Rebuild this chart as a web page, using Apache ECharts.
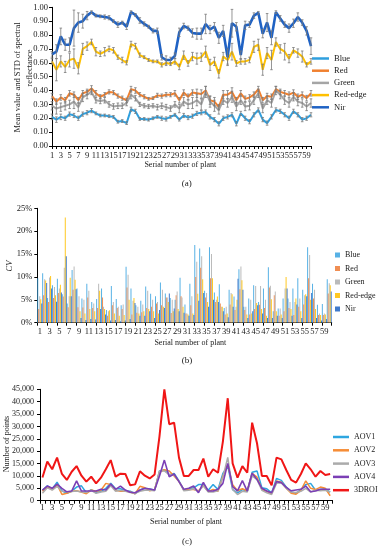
<!DOCTYPE html>
<html><head><meta charset="utf-8">
<script src="https://cdn.jsdelivr.net/npm/echarts@6/dist/echarts.min.js"></script>
<style>
html,body{margin:0;padding:0;background:#fff;width:381px;height:550px;overflow:hidden}
.c{position:absolute;left:0;width:381px}
</style></head><body>
<div id="ca" class="c" style="top:0;height:190px"></div>
<div id="cb" class="c" style="top:190px;height:180px"></div>
<div id="cc" class="c" style="top:370px;height:180px"></div>
<script>
// ---------- categories ----------
const plants = Array.from({length:60},(_,i)=>String(i+1));
const bandNames = ['Blue','Red','Green','Red-edge','Nir'];
const aovNames = ['AOV1','AOV2','AOV3','AOV4','3DROI'];

// ---------- (a) mean reflectance ----------
const meanBlue = [0.21,0.19,0.21,0.20,0.23,0.22,0.20,0.23,0.24,0.255,
 0.235,0.22,0.22,0.215,0.21,0.175,0.18,0.165,0.265,0.25,
 0.195,0.195,0.19,0.20,0.21,0.20,0.195,0.21,0.225,0.19,
 0.22,0.205,0.215,0.235,0.24,0.245,0.21,0.19,0.16,0.20,
 0.21,0.225,0.16,0.235,0.20,0.175,0.225,0.26,0.19,0.165,
 0.21,0.26,0.25,0.225,0.20,0.25,0.225,0.19,0.20,0.225];
const meanRed = [0.36,0.32,0.35,0.33,0.38,0.37,0.33,0.38,0.39,0.415,
 0.38,0.355,0.37,0.39,0.385,0.36,0.345,0.33,0.41,0.40,
 0.37,0.355,0.34,0.345,0.365,0.36,0.37,0.37,0.38,0.33,
 0.385,0.355,0.385,0.38,0.375,0.40,0.33,0.32,0.28,0.37,
 0.37,0.39,0.33,0.38,0.34,0.35,0.37,0.41,0.33,0.36,
 0.355,0.41,0.39,0.38,0.37,0.385,0.355,0.37,0.345,0.38];
const meanGreen = [0.29,0.27,0.28,0.29,0.30,0.32,0.28,0.35,0.37,0.39,
 0.33,0.325,0.33,0.30,0.285,0.29,0.29,0.31,0.37,0.345,
 0.30,0.29,0.285,0.29,0.28,0.29,0.28,0.27,0.30,0.27,
 0.32,0.30,0.31,0.33,0.30,0.39,0.32,0.29,0.26,0.33,
 0.31,0.355,0.285,0.33,0.285,0.29,0.33,0.38,0.27,0.33,
 0.31,0.40,0.37,0.33,0.31,0.355,0.32,0.31,0.285,0.31];
const meanRedEdge = [0.61,0.55,0.61,0.57,0.62,0.63,0.56,0.70,0.72,0.75,
 0.68,0.665,0.68,0.70,0.69,0.64,0.62,0.60,0.735,0.72,
 0.655,0.64,0.62,0.61,0.61,0.585,0.60,0.59,0.61,0.57,
 0.655,0.595,0.645,0.63,0.64,0.68,0.585,0.61,0.52,0.645,
 0.62,0.68,0.595,0.61,0.61,0.62,0.715,0.73,0.55,0.67,
 0.62,0.75,0.70,0.68,0.63,0.69,0.67,0.645,0.585,0.61];
const meanNir = [0.66,0.68,0.79,0.73,0.73,0.85,0.89,0.90,0.94,0.965,
 0.94,0.935,0.93,0.925,0.90,0.875,0.89,0.86,0.965,0.945,
 0.905,0.88,0.86,0.83,0.83,0.64,0.62,0.62,0.65,0.82,
 0.865,0.85,0.815,0.81,0.81,0.88,0.84,0.86,0.78,0.83,
 0.64,0.885,0.86,0.655,0.87,0.875,0.94,0.96,0.81,0.89,
 0.78,0.965,0.92,0.875,0.85,0.885,0.93,0.89,0.83,0.72];
// ---------- (a) STD ----------
const stdBlue = [0.02,0.02,0.02,0.015,0.015,0.015,0.015,0.015,0.015,0.015,
 0.01,0.01,0.01,0.01,0.01,0.01,0.01,0.01,0.015,0.015,
 0.01,0.01,0.01,0.01,0.01,0.015,0.015,0.01,0.01,0.01,
 0.015,0.015,0.015,0.015,0.015,0.015,0.015,0.015,0.015,0.015,
 0.015,0.015,0.015,0.015,0.015,0.015,0.015,0.015,0.015,0.015,
 0.015,0.015,0.015,0.015,0.015,0.015,0.015,0.015,0.015,0.015];
const stdRed = [0.02,0.02,0.02,0.02,0.02,0.02,0.02,0.02,0.02,0.02,
 0.02,0.015,0.015,0.015,0.015,0.015,0.015,0.015,0.02,0.02,
 0.015,0.015,0.01,0.01,0.015,0.015,0.015,0.015,0.02,0.02,
 0.02,0.02,0.02,0.03,0.03,0.03,0.03,0.03,0.02,0.03,
 0.03,0.03,0.02,0.02,0.02,0.02,0.02,0.02,0.02,0.02,
 0.02,0.02,0.02,0.02,0.02,0.02,0.02,0.02,0.02,0.02];
const stdGreen = [0.03,0.04,0.03,0.03,0.03,0.05,0.03,0.03,0.03,0.02,
 0.02,0.02,0.02,0.02,0.02,0.02,0.02,0.02,0.03,0.02,
 0.015,0.015,0.015,0.015,0.02,0.02,0.02,0.02,0.02,0.03,
 0.03,0.03,0.04,0.04,0.04,0.04,0.04,0.04,0.03,0.03,
 0.03,0.04,0.03,0.03,0.03,0.03,0.03,0.03,0.03,0.03,
 0.03,0.03,0.03,0.03,0.03,0.03,0.03,0.03,0.03,0.03];
const stdRedEdge = [0.02,0.08,0.04,0.04,0.05,0.07,0.04,0.04,0.03,0.02,
 0.03,0.02,0.03,0.02,0.02,0.015,0.02,0.015,0.02,0.02,
 0.015,0.01,0.01,0.01,0.01,0.015,0.02,0.01,0.02,0.02,
 0.03,0.02,0.03,0.04,0.03,0.04,0.04,0.03,0.03,0.03,
 0.03,0.06,0.02,0.02,0.02,0.02,0.04,0.04,0.04,0.04,
 0.07,0.03,0.03,0.06,0.03,0.02,0.03,0.04,0.015,0.02];
const stdNir = [0.02,0.05,0.06,0.04,0.05,0.13,0.07,0.05,0.03,0.01,
 0.01,0.01,0.015,0.015,0.01,0.02,0.01,0.02,0.01,0.01,
 0.02,0.015,0.01,0.015,0.02,0.02,0.03,0.02,0.02,0.03,
 0.02,0.015,0.03,0.04,0.04,0.07,0.03,0.03,0.04,0.04,
 0.06,0.10,0.03,0.03,0.03,0.02,0.02,0.01,0.03,0.065,
 0.05,0.01,0.02,0.02,0.03,0.03,0.03,0.02,0.03,0.06];

// ---------- (b) CV (%) ----------
const cvBlue = [9.7,10.8,5.4,8.2,9.6,6.2,4.2,11.5,7.5,5.3,
 8.5,4.5,5.2,7.5,2.8,8.0,5.2,3.8,12.2,7.5,
 3.8,4.8,7.9,6.3,5.8,8.8,6.4,5.4,5.0,9.8,
 4.0,8.5,17.0,16.2,7.0,16.5,6.6,8.4,3.2,7.2,
 5.7,11.7,3.5,5.3,8.2,4.5,7.5,12.1,2.5,3.1,
 5.3,5.3,7.5,9.7,7.2,16.5,8.5,3.9,4.1,9.5];
const cvRed = [3.0,6.0,4.5,5.4,6.5,5.7,3.4,7.2,3.4,3.3,
 5.5,3.2,3.2,5.5,1.5,3.8,3.2,3.0,7.7,1.8,
 2.2,2.3,3.2,3.5,4.2,3.8,5.5,2.1,6.0,5.8,
 2.0,3.8,10.0,12.0,5.5,9.7,4.5,4.2,1.8,4.0,
 2.8,7.3,2.8,1.8,3.0,3.9,3.2,7.7,6.0,1.5,
 2.5,3.2,1.7,3.5,4.0,9.7,5.3,1.7,1.7,6.4];
const cvGreen = [5.8,9.5,9.9,7.8,7.5,12.0,5.8,12.3,5.8,5.0,
 7.0,4.2,8.5,3.5,2.5,4.5,3.5,4.0,10.5,4.8,
 3.5,4.0,7.0,5.0,4.5,7.2,5.5,5.0,6.8,5.5,
 2.0,5.8,13.3,14.5,6.5,15.0,5.0,3.5,3.5,6.5,
 3.5,12.3,3.5,5.0,8.0,8.0,5.0,8.1,6.8,3.1,
 7.5,4.5,4.5,5.3,6.0,14.8,7.2,2.0,2.0,8.6];
const cvRedEdge = [5.1,9.2,10.2,6.0,8.3,23.0,9.8,9.4,2.5,2.0,
 3.0,2.5,7.0,3.0,2.7,2.0,1.5,1.7,5.0,5.4,
 2.0,2.5,3.0,2.5,2.0,3.5,4.5,2.5,3.0,3.5,
 1.8,2.0,6.3,9.5,4.5,9.7,5.7,3.5,2.0,6.2,
 5.0,9.3,1.8,2.0,4.3,3.0,1.5,5.1,2.5,1.8,
 10.0,3.0,5.3,2.5,6.2,5.0,3.0,1.7,1.8,8.2];
const cvNir = [4.2,8.7,7.5,4.6,6.6,14.5,5.8,7.3,1.0,0.6,
 0.8,0.7,3.0,1.8,0.5,0.6,0.3,0.5,0.8,4.3,
 1.5,1.5,2.5,1.0,2.8,3.2,6.4,3.1,2.5,2.2,
 1.5,1.7,4.8,6.5,3.5,5.0,4.5,2.5,1.2,3.5,
 9.6,7.2,1.0,2.5,3.8,2.0,1.0,1.0,1.5,1.0,
 7.5,1.5,4.0,1.0,5.8,6.5,1.0,0.5,0.8,6.8];

// ---------- (c) number of points ----------
const ptsAOV1 = [4200,6000,4800,7500,4000,3000,3800,5500,6000,3200,
 4500,3300,3800,5000,7000,4800,4800,4000,3800,2800,
 4300,5000,4700,4200,12000,12500,10500,11000,8000,4300,
 4800,5200,6500,6500,4200,6500,4500,11000,14000,4500,
 3200,4500,3800,11500,12000,5200,4800,3200,9000,8200,
 5500,3500,3000,4500,6500,7000,4200,4500,4800,3500];
const ptsAOV2 = [3800,5500,4500,6500,2500,3000,3800,4000,3500,2800,
 4300,3800,4200,7000,6500,4200,3800,3900,3500,2800,
 5800,5200,4000,4500,11500,12500,12000,10000,7800,4300,
 4500,4500,4000,6000,3700,4500,3800,10000,14500,6500,
 4000,4800,4000,11000,9500,4500,3800,2800,8000,7500,
 5000,3000,2600,4200,8000,5000,4500,5500,5000,2000];
const ptsAOV3 = [3000,5200,4300,5800,3800,3600,3700,3900,3500,3300,
 4200,3000,3500,3800,6000,3800,4200,3800,3300,3000,
 3800,4200,4200,4000,12000,12000,10500,10500,7800,4000,
 4200,4800,3600,6000,3500,3500,4000,9500,17500,4500,
 2500,3800,3500,10000,8500,4200,3200,2500,7000,7200,
 5000,3500,3300,3800,5000,3500,4200,4000,4200,3500];
const ptsAOV4 = [4300,5900,5000,6700,5000,3600,3900,8000,3900,3900,
 3900,3900,4600,4300,6700,4600,5900,4300,3400,3200,
 4300,5000,4700,4300,10000,16400,9700,10800,7700,4600,
 5000,5900,3200,7400,3900,3900,4600,7000,15100,5700,
 4000,8100,3900,11100,8600,5000,3900,3200,7700,7300,
 5400,4000,4300,4600,5900,3600,3900,4600,4600,4600];
const pts3DROI = [9400,15800,12700,17400,10800,8400,11700,14000,10100,7700,
 9700,7000,9300,12700,16400,9700,10900,10800,6200,6600,
 11900,10100,9000,10600,26000,45000,30900,31500,17400,10000,
 10000,12400,12400,17000,9700,12700,11300,23900,41400,15100,
 9300,14000,11300,31500,23200,10000,10000,6200,17400,16700,
 12400,8400,7300,10800,15100,12700,9700,12000,10400,10800];

// ---------- styles ----------
const FF = 'Liberation Serif';
const TXT = '#1a1a1a';
const lineColors = ['#2f9fde','#f0802f','#a5a5a5','#ffc000','#1f62c4'];
const barColors = ['#45a8e2','#ee8240','#b3b3b3','#ffc20a','#2a6cc6'];
const aovColors = ['#2ea6e0','#f68d36','#ababab','#7b3fb5','#f01616'];

function axisBase(){
  return {axisLine:{show:true,lineStyle:{color:'#000',width:1}},
          axisTick:{show:true,length:3,lineStyle:{color:'#000'}},
          splitLine:{show:false}};
}
function label(t,x,y,size,opts){
  return Object.assign({type:'text',x:x,y:y,silent:true,
    style:{text:t,fill:TXT,fontFamily:FF,fontSize:size,textAlign:'center',textVerticalAlign:'middle'}},opts||{});
}

// ===== Chart (a) =====
const means = [meanBlue,meanRed,meanGreen,meanRedEdge,meanNir];
const stds = [stdBlue,stdRed,stdGreen,stdRedEdge,stdNir];
const lineW = [2,2,2,2,2.6];
const seriesA = [];
bandNames.forEach((n,k)=>{
  seriesA.push({name:n,type:'line',data:means[k],symbol:'none',z:2+k,
    lineStyle:{color:lineColors[k],width:lineW[k]},itemStyle:{color:lineColors[k]}});
});
bandNames.forEach((n,k)=>{
  seriesA.push({name:n+' STD',type:'custom',z:10,
    data:means[k].map((m,i)=>[i,m,stds[k][i]]),
    encode:{x:0,y:1},
    renderItem:function(params,api){
      const i=api.value(0), m=api.value(1), s=api.value(2);
      const hi=api.coord([i,m+s]), lo=api.coord([i,m-s]);
      const w=1.3, st={stroke:'#7a7a7a',lineWidth:0.8};
      return {type:'group',children:[
        {type:'line',shape:{x1:hi[0],y1:hi[1],x2:lo[0],y2:lo[1]},style:st},
        {type:'line',shape:{x1:hi[0]-w,y1:hi[1],x2:hi[0]+w,y2:hi[1]},style:st},
        {type:'line',shape:{x1:lo[0]-w,y1:lo[1],x2:lo[0]+w,y2:lo[1]},style:st}]};
    }});
});
const chA = echarts.init(document.getElementById('ca'),null,{renderer:'canvas'});
chA.setOption({
  animation:false,
  grid:{left:52,right:70,top:7.3,bottom:44},
  legend:{data:bandNames.map((n,k)=>({name:n,icon:'rect',itemStyle:{color:lineColors[k]}})),
    orient:'vertical',left:312,top:54,itemWidth:17,itemHeight:k=>2,itemGap:3.2,padding:0,
    textStyle:{fontFamily:FF,fontSize:8.5,color:TXT}},
  xAxis:Object.assign(axisBase(),{type:'category',data:plants,boundaryGap:false,
    axisTick:{show:true,length:3,interval:0,lineStyle:{color:'#000'}},
    axisLabel:{interval:1,margin:5,fontFamily:FF,fontSize:8.5,color:TXT}}),
  yAxis:Object.assign(axisBase(),{type:'value',min:0,max:1,interval:0.1,
    axisLabel:{margin:4,fontFamily:FF,fontSize:8.5,color:TXT,formatter:v=>v.toFixed(2)}}),
  series:seriesA,
  graphic:[
    label('Serial number of plant',180.3,164.5,8),
    label('(a)',186.7,183.3,9),
    label('Mean value and STD of spectral',18,77.5,8.5,{rotation:Math.PI/2}),
    label('reflectance',29.5,68,8.5,{rotation:Math.PI/2})
  ]
});
chA.setOption({legend:{itemHeight:2.5}});

// ===== Chart (b) =====
const cvs = [cvBlue,cvRed,cvGreen,cvRedEdge,cvNir];
const chB = echarts.init(document.getElementById('cb'),null,{renderer:'canvas'});
chB.setOption({
  animation:false,
  grid:{left:37.3,right:49.3,top:18.3,bottom:47.3},
  legend:{data:bandNames,orient:'vertical',left:335,top:61,icon:'rect',itemWidth:5,itemHeight:5,itemGap:5.5,padding:0,
    textStyle:{fontFamily:FF,fontSize:8,color:TXT}},
  xAxis:Object.assign(axisBase(),{type:'category',data:plants,boundaryGap:true,
    axisTick:{show:true,length:3,interval:1,lineStyle:{color:'#000'}},
    axisLabel:{interval:1,margin:4.5,fontFamily:FF,fontSize:8.5,color:TXT}}),
  yAxis:Object.assign(axisBase(),{type:'value',min:0,max:25,interval:5,
    axisLabel:{margin:5,fontFamily:FF,fontSize:8.5,color:TXT,formatter:'{value}%'}}),
  series:bandNames.map((n,k)=>({name:n,type:'bar',data:cvs[k],barGap:'0%',barCategoryGap:'12%',
    itemStyle:{color:barColors[k],opacity:0.9}})),
  graphic:[
    label('Serial number of plant',190.3,152.7,8),
    label('(b)',187,171,9),
    label('CV',9.3,76,8.5,{rotation:Math.PI/2,style:{text:'CV',fill:TXT,fontFamily:FF,fontSize:8.5,fontStyle:'italic',textAlign:'center',textVerticalAlign:'middle'}})
  ]
});

// ===== Chart (c) =====
const pts = [ptsAOV1,ptsAOV2,ptsAOV3,ptsAOV4,pts3DROI];
const aovW = [1.5,1.5,1.5,1.6,2];
const chC = echarts.init(document.getElementById('cc'),null,{renderer:'canvas'});
chC.setOption({
  animation:false,
  grid:{left:40,right:48.4,top:19.3,bottom:49.3},
  legend:{data:aovNames.map((n,k)=>({name:n,icon:'rect',itemStyle:{color:aovColors[k]}})),
    orient:'vertical',left:333,top:63,itemWidth:16,itemHeight:2.5,itemGap:5.3,padding:0,
    textStyle:{fontFamily:FF,fontSize:8,color:TXT}},
  xAxis:Object.assign(axisBase(),{type:'category',data:plants,boundaryGap:true,
    axisTick:{show:true,length:3,interval:0,lineStyle:{color:'#000'}},
    axisLabel:{interval:1,margin:2.5,fontFamily:FF,fontSize:8.5,color:TXT}}),
  yAxis:Object.assign(axisBase(),{type:'value',min:0,max:45000,interval:5000,
    axisLabel:{margin:6,fontFamily:FF,fontSize:8,color:TXT,
      formatter:v=>v.toLocaleString('en-US')}}),
  series:aovNames.map((n,k)=>({name:n,type:'line',data:pts[k],symbol:'none',z:2+k,
    lineStyle:{color:aovColors[k],width:aovW[k]},itemStyle:{color:aovColors[k]}})),
  graphic:[
    label('Serial number of plant',186,152.3,8),
    label('(c)',187,171.7,9),
    label('Number of points',6.5,74,8,{rotation:Math.PI/2})
  ]
});
</script>
</body></html>
